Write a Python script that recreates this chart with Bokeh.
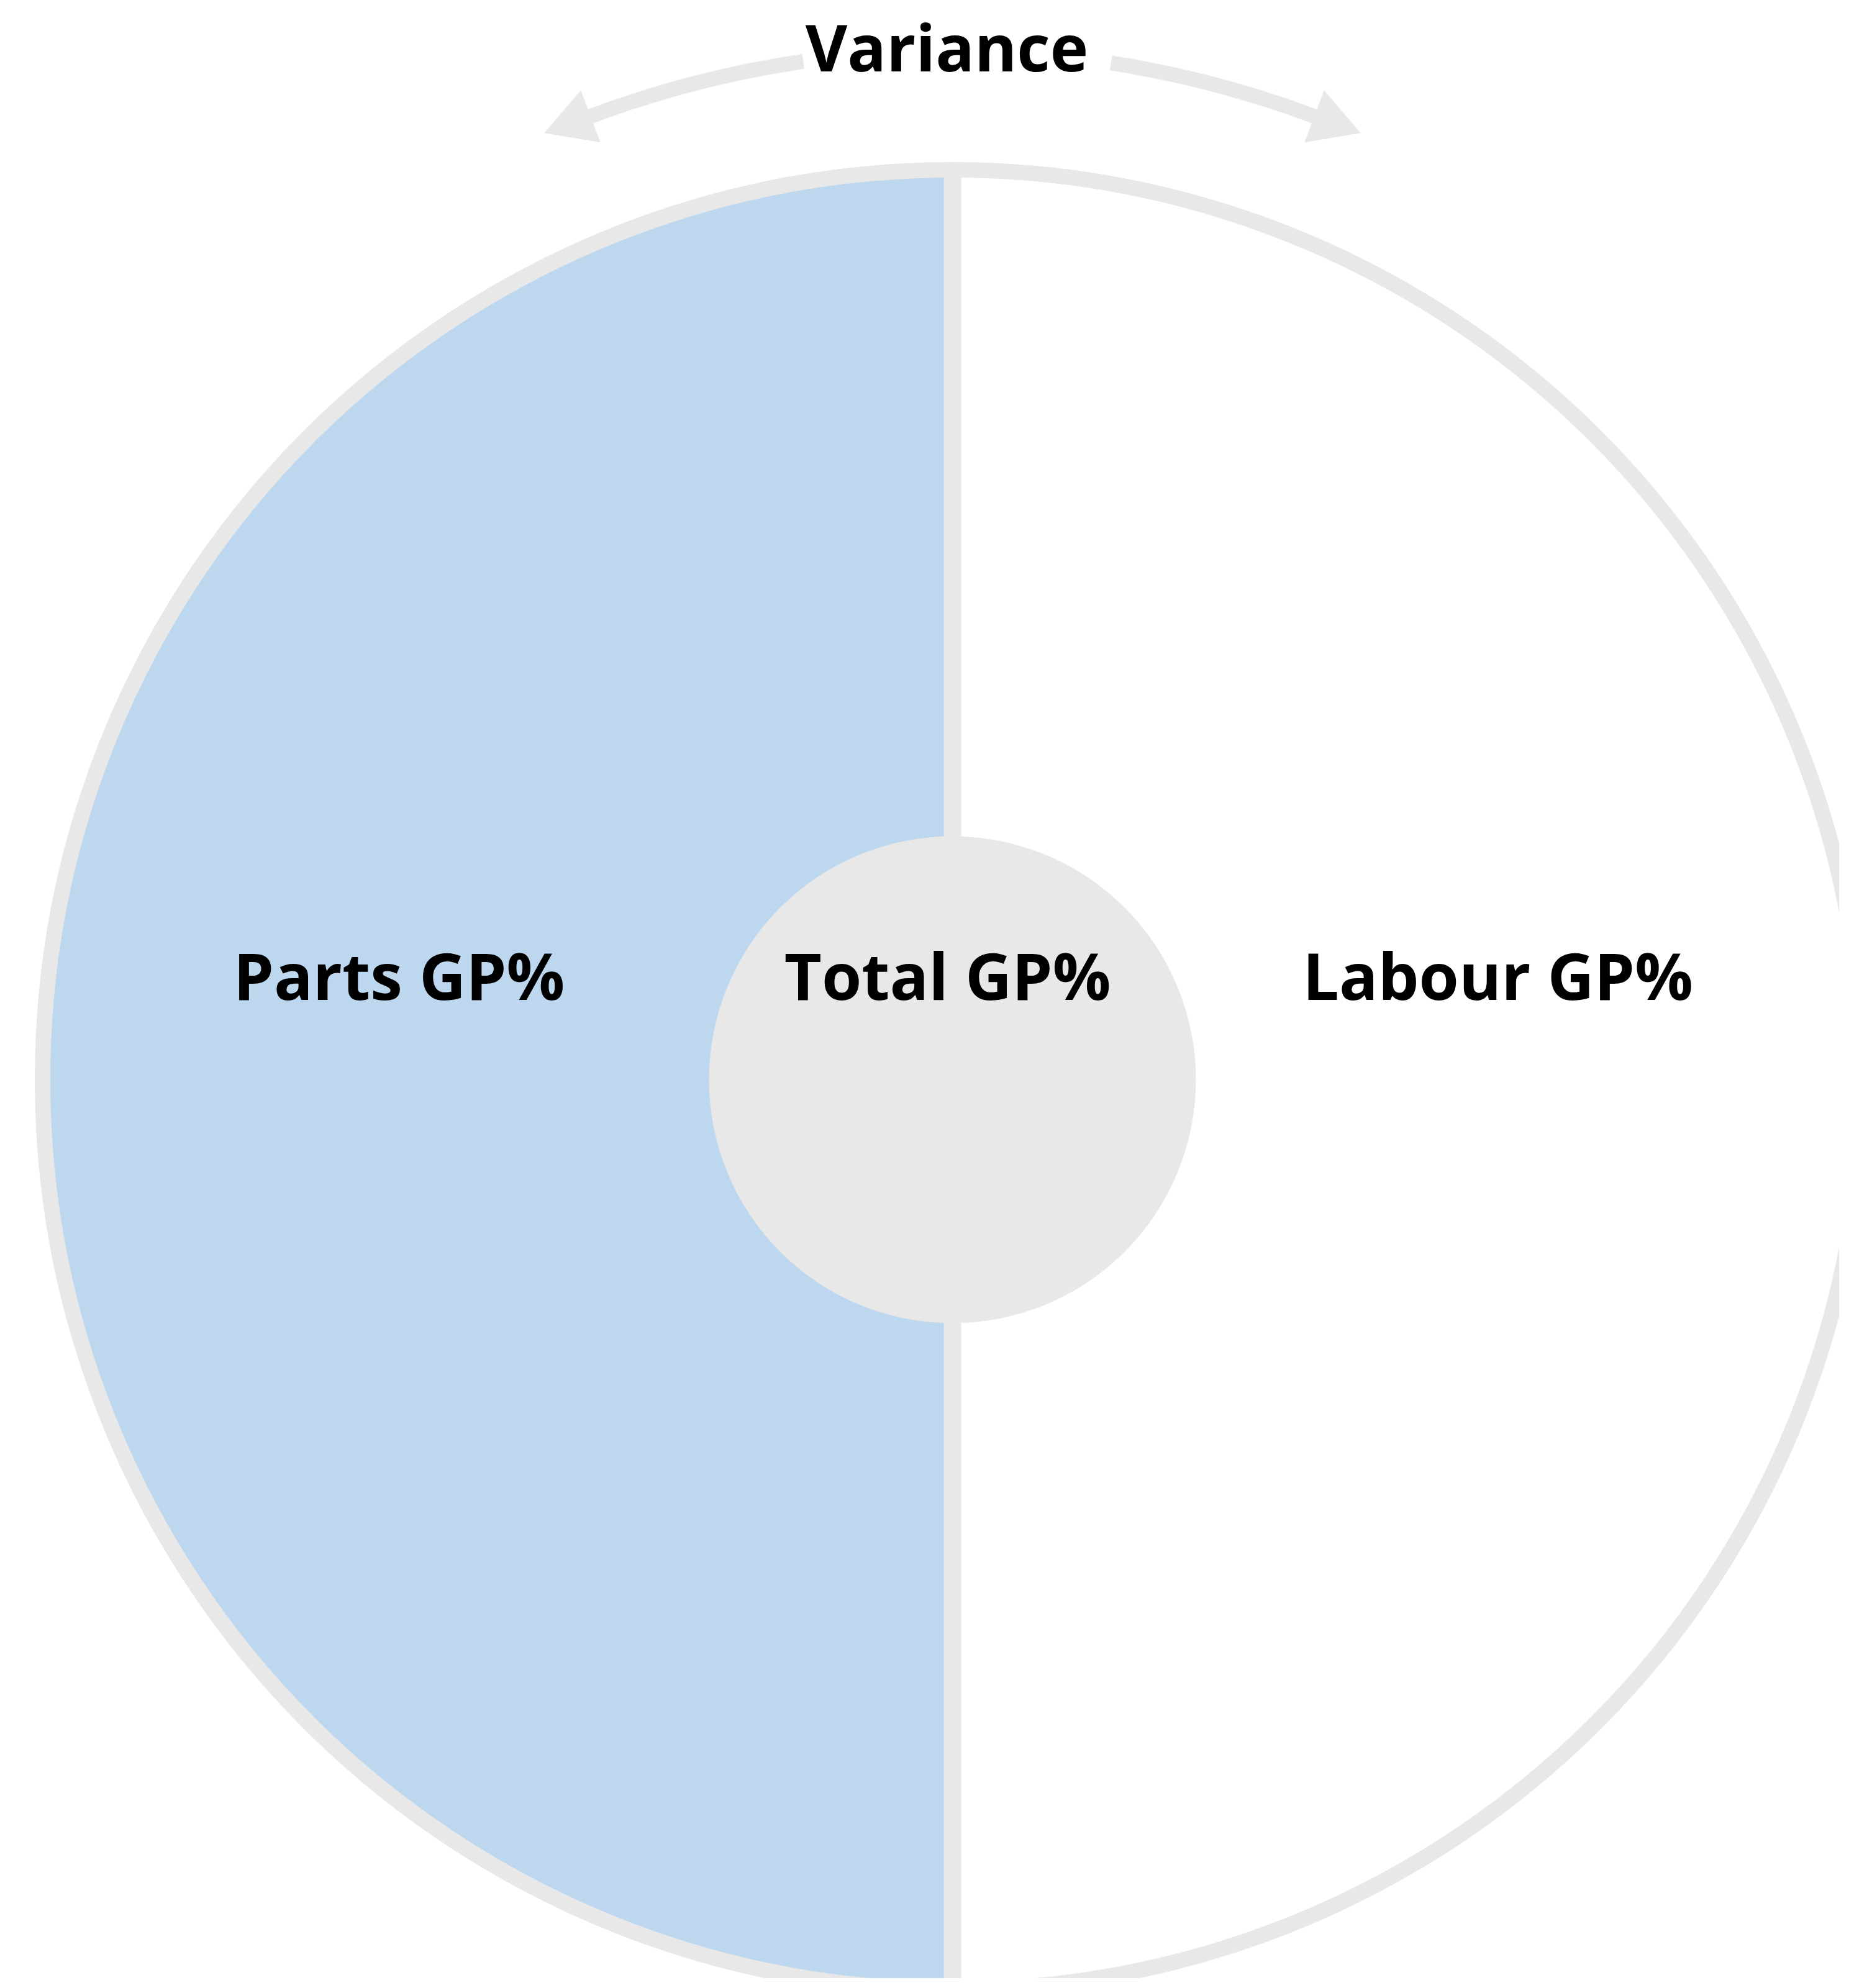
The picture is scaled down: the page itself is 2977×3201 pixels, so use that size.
import math
from bokeh.plotting import figure
from bokeh.models import ColumnDataSource, Range1d
from bokeh.core.properties import value
from bokeh.embed import file_html
from bokeh.resources import INLINE

# ---- data ----
segments = ["Parts GP%", "Labour GP%"]
shares = [50, 50]
segment_colors = ["#BDD7EE", "#FFFFFF"]
center_label = "Total GP%"
title_label = "Variance"

# ---- layout (pixel-like data space, y up) ----
W, H = 2961, 3185
PAGE_H = 3201
GRAY = "#E8E8E8"
CX, CY = 1533, PAGE_H - 1738
R_OUT = 1465
R_IN = 392
FONT = value("Open Sans")
FSIZE = "104px"
TEXT_SHIFT = 43
BASE_Y = PAGE_H - 1612 + TEXT_SHIFT

p = figure(width=W, height=H, output_backend="svg", toolbar_location=None,
           x_range=Range1d(0, W), y_range=Range1d(PAGE_H - H, PAGE_H),
           min_border=0, background_fill_color="white", border_fill_color="white")
p.axis.visible = False
p.grid.visible = False
p.outline_line_color = None

# pie halves from shares
total = float(sum(shares))
starts, ends = [], []
acc = math.pi / 2
for s in shares:
    starts.append(acc)
    acc += 2 * math.pi * s / total
    ends.append(acc)
src = ColumnDataSource(dict(name=segments, start=starts, end=ends, color=segment_colors))
p.wedge(x=CX, y=CY, radius=R_OUT, start_angle="start", end_angle="end",
        fill_color="color", line_color=None, source=src)

# outer ring
p.circle(x=[CX], y=[CY], radius=R_OUT, fill_color=None, line_color=GRAY, line_width=25)
# divider
p.segment(x0=[CX], y0=[CY - R_OUT], x1=[CX], y1=[CY + R_OUT], line_color=GRAY, line_width=28)
# inner circle
p.circle(x=[CX], y=[CY], radius=R_IN, fill_color=GRAY, line_color=None)

# labels
label_x = [642, 2411]
p.text(x=label_x, y=[BASE_Y] * 2, text=segments, text_font=FONT, text_font_style="bold",
       text_font_size=FSIZE, text_align="center", text_baseline="alphabetic", text_color="#000000")
p.text(x=[1525], y=[BASE_Y], text=[center_label], text_font=FONT, text_font_style="bold",
       text_font_size=FSIZE, text_align="center", text_baseline="alphabetic", text_color="#000000")
p.text(x=[1524], y=[PAGE_H - 117 + TEXT_SHIFT], text=[title_label], text_font=FONT, text_font_style="bold",
       text_font_size=FSIZE, text_align="center", text_baseline="alphabetic", text_color="#000000")

# variance arrows: arcs concentric with the pie, plus triangular heads
R_ARR = 1657
HALF = 44
def d2r(a):
    return a * math.pi / 180.0

arrows = [  # (shaft start angle, head base angle, tip angle) in degrees
    (90 + 8.33, 90 + 20.6, 90 + 23.3),
    (90 - 8.86, 90 - 20.6, 90 - 23.3),
]
arc_s, arc_e = [], []
hx, hy = [], []
for a0, ab, at in arrows:
    lo, hi = sorted([a0, ab])
    arc_s.append(d2r(lo))
    arc_e.append(d2r(hi))
    b = d2r(ab)
    t = d2r(at)
    xs = [CX + (R_ARR + HALF) * math.cos(b), CX + 1660 * math.cos(t), CX + (R_ARR - HALF) * math.cos(b)]
    ys = [CY + (R_ARR + HALF) * math.sin(b), CY + 1660 * math.sin(t), CY + (R_ARR - HALF) * math.sin(b)]
    hx.append(xs)
    hy.append(ys)

p.arc(x=[CX] * 2, y=[CY] * 2, radius=R_ARR, start_angle=arc_s, end_angle=arc_e,
      direction="anticlock", line_color=GRAY, line_width=24, line_cap="butt")
p.patches(xs=hx, ys=hy, fill_color=GRAY, line_color=GRAY, line_width=1)

open("out.html", "w").write(file_html(p, INLINE))
